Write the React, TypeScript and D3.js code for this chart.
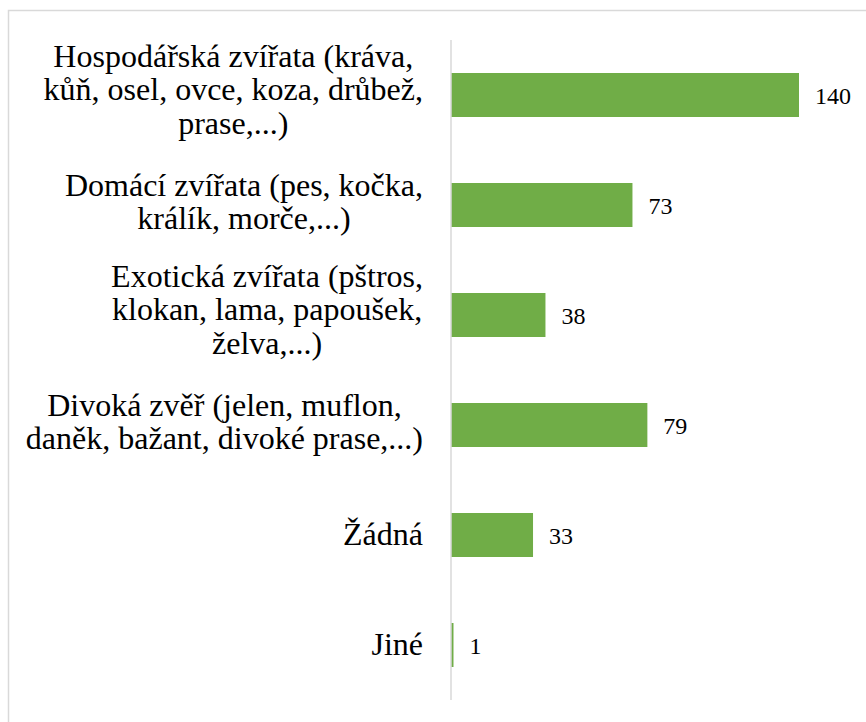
import React from "react";
import * as d3 from "d3";

// categories, each split into the lines shown in the chart
const categories: string[][] = [
  ["Hospodářská zvířata (kráva,", "kůň, osel, ovce, koza, drůbež,", "prase,...)"],
  ["Domácí zvířata (pes, kočka,", "králík, morče,...)"],
  ["Exotická zvířata (pštros,", "klokan, lama, papoušek,", "želva,...)"],
  ["Divoká zvěř (jelen, muflon,", "daněk, bažant, divoké prase,...)"],
  ["Žádná"],
  ["Jiné"],
];
const counts: number[] = [140, 73, 38, 79, 33, 1];

const W = 866;
const H = 722;
const FONT = '"Liberation Serif"';
const LABEL_SIZE = 32;
const VALUE_SIZE = 24;

let ctx: CanvasRenderingContext2D | null = null;
function textWidth(s: string, size: number) {
  if (!ctx) ctx = document.createElement("canvas").getContext("2d");
  if (!ctx) return s.length * size * 0.42;
  ctx.font = `${size}px ${FONT}`;
  return ctx.measureText(s).width;
}

export default function App() {
  const keys = categories.map((c) => c.join(" "));
  const y = d3.scaleBand().domain(keys).range([40, 700]).paddingInner(0.6).paddingOuter(0.3);
  const x = d3.scaleLinear().domain([0, 140]).range([451, 799]);

  const right = 423;
  const lh = 33.5;

  return (
    <svg
      width={W}
      height={H}
      style={{ position: "absolute", left: 0, top: 0, display: "block", background: "white" }}
    >
      {/* chart area border, runs off the right/bottom edge */}
      <rect x={8.5} y={10.5} width={1000} height={1000} fill="white" stroke="#d9d9d9" strokeWidth={1.5} />

      {counts.map((d, i) => (
        <rect key={keys[i]} x={x(0)} y={y(keys[i])} width={x(d) - x(0)} height={y.bandwidth()} fill="#70AD47" />
      ))}

      <line x1={x(0)} x2={x(0)} y1={40} y2={700} stroke="#d9d9d9" strokeWidth={1.5} />

      {counts.map((d, i) => (
        <text
          key={"v" + i}
          x={x(d) + 16}
          y={y(keys[i])! + y.bandwidth() / 2 + 9}
          style={{ fontFamily: FONT, fontSize: VALUE_SIZE }}
          fill="#000"
        >
          {d}
        </text>
      ))}

      {categories.map((lines, i) => {
        const n = lines.length;
        const cy = y(keys[i])! + y.bandwidth() / 2;
        const bw = d3.max(lines, (ln) => textWidth(ln, LABEL_SIZE)) ?? 0;
        const off = 10 - (n - 1) * 2.5;
        return (
          <g key={"c" + i}>
            {lines.map((ln, j) => (
              <text
                key={j}
                x={right - bw / 2}
                y={cy - ((n - 1) / 2) * lh + j * lh + off}
                textAnchor="middle"
                style={{ fontFamily: FONT, fontSize: LABEL_SIZE }}
                fill="#000"
              >
                {ln}
              </text>
            ))}
          </g>
        );
      })}
    </svg>
  );
}
